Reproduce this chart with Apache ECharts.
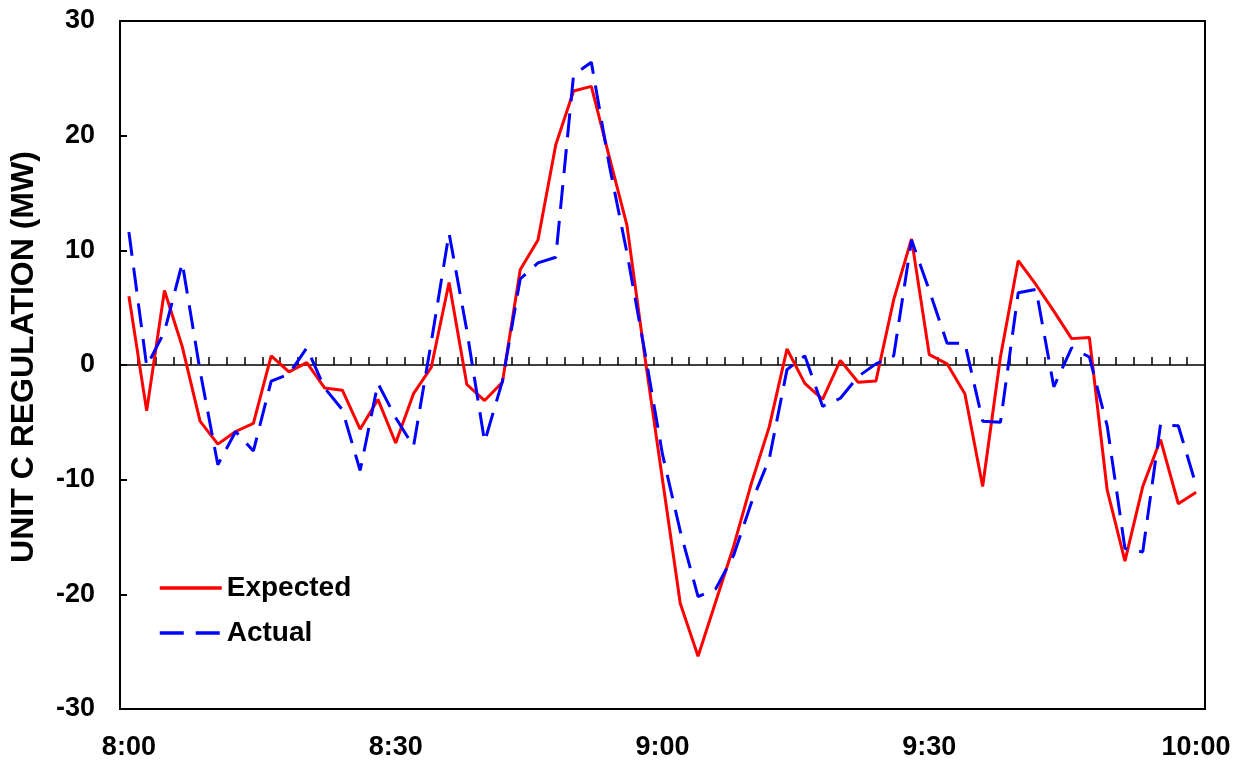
<!DOCTYPE html>
<html>
<head>
<meta charset="utf-8">
<script src="https://cdn.jsdelivr.net/npm/echarts@6/dist/echarts.min.js"></script>
<style>
html,body{margin:0;padding:0;background:#fff;}
#chart{width:1244px;height:766px;}
</style>
</head>
<body>
<div id="chart"></div>
<script>
// Categories: samples every 2 minutes from 8:00 to 10:00
var categories = [];
for (var m = 0; m <= 120; m += 2) {
  var h = 8 + Math.floor(m / 60), mm = m % 60;
  categories.push(h + ':' + (mm < 10 ? '0' : '') + mm);
}

var expected = [
  6.0, -4.0, 6.5, 1.6, -4.9, -6.9, -5.8, -5.1, 0.8, -0.6,
  0.2, -2.0, -2.2, -5.6, -3.0, -6.8, -2.5, -0.2, 7.2, -1.7,
  -3.1, -1.5, 8.3, 10.9, 19.2, 23.9, 24.3, 18.2, 12.2, 0.8,
  -10.0, -20.8, -25.4, -20.6, -15.8, -10.3, -5.4, 1.4, -1.6, -3.0,
  0.4, -1.5, -1.4, 5.7, 11.0, 0.9, 0.1, -2.5, -10.6, 0.7,
  9.1, 7.0, 4.7, 2.3, 2.4, -10.9, -17.1, -10.6, -6.5, -12.1,
  -11.1
];

var actual = [
  11.6, -0.1, 2.9, 8.9, -0.5, -8.7, -5.8, -7.5, -1.4, -0.8,
  1.5, -2.0, -3.9, -9.2, -1.6, -4.6, -7.1, 2.0, 11.5, 3.0,
  -6.7, -1.4, 7.5, 8.9, 9.4, 25.3, 26.4, 17.5, 9.8, 1.2,
  -7.8, -14.5, -20.2, -19.5, -16.6, -12.0, -8.2, -0.4, 0.8, -3.6,
  -2.9, -1.0, 0.1, 0.8, 10.9, 6.5, 1.9, 1.9, -4.9, -5.0,
  6.3, 6.6, -1.9, 1.5, 0.7, -5.3, -16.0, -16.3, -5.2, -5.3,
  -10.5
];

var yTicks = { min: -30, max: 30, interval: 10 };
var FONT = '"Liberation Sans", Arial, Helvetica, sans-serif';

var chart = echarts.init(document.getElementById('chart'), null, { renderer: 'canvas' });
chart.setOption({
  animation: false,
  backgroundColor: '#ffffff',
  grid: {
    left: 117, right: 39, top: 21, bottom: 57,
    show: true, borderColor: '#000', borderWidth: 2, backgroundColor: 'transparent'
  },
  legend: {
    orient: 'vertical',
    left: 158, top: 573, padding: 0,
    itemWidth: 62, itemHeight: 14, itemGap: 15,
    data: ['Expected', 'Actual'],
    itemStyle: { opacity: 0 },
    lineStyle: { width: 3.5 },
    textStyle: { fontFamily: FONT, fontWeight: 'bold', fontSize: 28, color: '#000', lineHeight: 30 }
  },
  xAxis: [
    {
      type: 'category',
      data: categories,
      boundaryGap: true,
      position: 'bottom',
      axisLine: { onZero: false, lineStyle: { color: '#000', width: 2 } },
      axisTick: { show: false },
      splitLine: { show: false },
      axisLabel: {
        interval: 14, margin: 25, color: '#000',
        fontFamily: FONT, fontWeight: 'bold', fontSize: 27
      }
    },
    {
      type: 'category',
      data: categories,
      boundaryGap: true,
      position: 'top',
      axisLine: { show: true, onZero: true, lineStyle: { color: '#000', width: 1.5 } },
      axisTick: { show: true, interval: 0, inside: false, length: 8, lineStyle: { color: '#000', width: 1.5 } },
      axisLabel: { show: false },
      splitLine: { show: false }
    }
  ],
  yAxis: {
    type: 'value',
    min: yTicks.min, max: yTicks.max, interval: yTicks.interval,
    name: 'UNIT C REGULATION (MW)',
    nameLocation: 'middle',
    nameRotate: 90,
    nameGap: 80,
    nameTextStyle: { fontFamily: FONT, fontWeight: 'bold', fontSize: 32, color: '#000', padding: [0, 0, 0, 16] },
    axisLine: { show: true, lineStyle: { color: '#000', width: 2 } },
    axisTick: { show: true, inside: true, length: 7, lineStyle: { color: '#000', width: 2 } },
    splitLine: { show: false },
    axisLabel: { margin: 25, color: '#000', fontFamily: FONT, fontWeight: 'bold', fontSize: 27 }
  },
  series: [
    {
      name: 'Expected', type: 'line', xAxisIndex: 0, data: expected,
      symbol: 'none', smooth: false,
      lineStyle: { color: '#ff0000', width: 3 },
      itemStyle: { color: '#ff0000' }
    },
    {
      name: 'Actual', type: 'line', xAxisIndex: 0, data: actual,
      symbol: 'none', smooth: false,
      lineStyle: { color: '#0000ff', width: 3, type: [24, 12] },
      itemStyle: { color: '#0000ff' }
    }
  ]
});
</script>
</body>
</html>
